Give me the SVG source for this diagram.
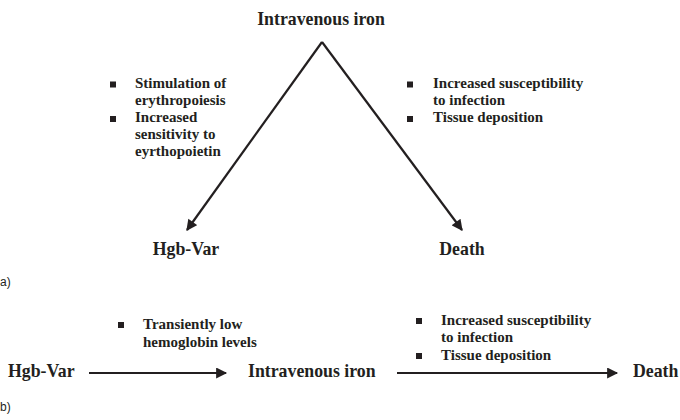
<svg xmlns="http://www.w3.org/2000/svg" width="680" height="420" viewBox="0 0 680 420">
<style>
.node{font-weight:bold;font-size:17.8px;fill:#231f20}
.bt{font-weight:bold;font-size:15px;fill:#231f20}
.lab{font-family:"Liberation Sans",Arial,sans-serif;font-size:12px;fill:#231f20}
.ln{stroke:#231f20;stroke-width:2.2;fill:none}
.sq{fill:#231f20}
</style>
<defs>
<marker id="ah" viewBox="0 0 10 10" refX="9" refY="5" markerWidth="5.5" markerHeight="5" orient="auto" markerUnits="strokeWidth">
<path d="M0,0 L10,5 L0,10 z" fill="#231f20"/>
</marker>
</defs>
<g id="connectors">
<path class="ln" d="M322,42 L187,230" marker-end="url(#ah)"/>
<path class="ln" d="M322,42 L462,230" marker-end="url(#ah)"/>
<path class="ln" d="M89,373 L226,373" marker-end="url(#ah)"/>
<path class="ln" d="M397,373 L617,373" marker-end="url(#ah)"/>
</g>
<g font-family="'Liberation Serif', Tinos, 'Times New Roman', 'DejaVu Serif', serif">
<g id="a-iv"><text class="node" x="321" y="25" text-anchor="middle">Intravenous iron</text></g>
<g id="a-hgb"><text class="node" x="186" y="255" text-anchor="middle">Hgb-Var</text></g>
<g id="a-death"><text class="node" x="462" y="255" text-anchor="middle">Death</text></g>
<g id="a-left-notes">
<rect class="sq" x="110" y="81.5" width="6" height="6"/>
<rect class="sq" x="110" y="116" width="6" height="6"/>
<text class="bt" x="135" y="88">Stimulation of</text>
<text class="bt" x="135" y="105">erythropoiesis</text>
<text class="bt" x="135" y="122">Increased</text>
<text class="bt" x="135" y="139">sensitivity to</text>
<text class="bt" x="135" y="156">eyrthopoietin</text>
</g>
<g id="a-right-notes">
<rect class="sq" x="407" y="81.5" width="6" height="6"/>
<rect class="sq" x="407" y="116" width="6" height="6"/>
<text class="bt" x="433" y="88">Increased susceptibility</text>
<text class="bt" x="433" y="105">to infection</text>
<text class="bt" x="433" y="122">Tissue deposition</text>
</g>
<g id="b-hgb"><text class="node" x="8" y="377">Hgb-Var</text></g>
<g id="b-iv"><text class="node" x="248" y="377">Intravenous iron</text></g>
<g id="b-death"><text class="node" x="633" y="377">Death</text></g>
<g id="b-left-notes">
<rect class="sq" x="118" y="322" width="6" height="6"/>
<text class="bt" x="143" y="329">Transiently low</text>
<text class="bt" x="143" y="347">hemoglobin levels</text>
</g>
<g id="b-right-notes">
<rect class="sq" x="416" y="318" width="6" height="6"/>
<rect class="sq" x="416" y="353" width="6" height="6"/>
<text class="bt" x="441" y="325">Increased susceptibility</text>
<text class="bt" x="441" y="342">to infection</text>
<text class="bt" x="441" y="360">Tissue deposition</text>
</g>
</g>
<text class="lab" x="0" y="286">a)</text>
<text class="lab" x="0" y="411">b)</text>
</svg>
